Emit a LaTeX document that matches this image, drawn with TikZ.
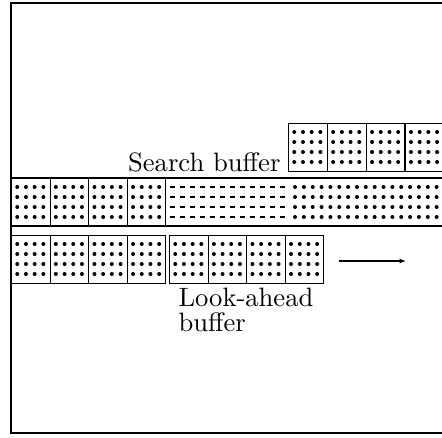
\documentclass[tikz,border=0pt]{standalone}
\usetikzlibrary{arrows.meta}

\tikzset{
  cellbox/.style={draw, anchor=north west, inner sep=0pt,
    minimum width=14.51pt, minimum height=18.05pt},
  buflabel/.style={inner sep=0pt, font=\fontsize{10}{9.4}\selectfont}
}
% 4x4 dots inside one cell
\newcommand{\dotcell}[1]{%
  \foreach \dx in {6.25,14.95,23.65,32.35}
    \foreach \dy in {9,19,29,39}
      \fill ([shift={(\dx,\dy)}]#1.north west) circle (0.75pt);}

\begin{document}
\begin{tikzpicture}[x=0.376pt,y=-0.376pt]
\useasboundingbox (0,0) rectangle (442,437);
\clip (0,0) rectangle (442,437);

\draw (11,3) rectangle (480,433);

% upper row
\foreach \i in {1,...,4}
  \node[cellbox] (srch\i) at ({288+38.9*(\i-1)},123) {};
\foreach \i in {1,...,4} {\dotcell{srch\i}}
\node[buflabel, anchor=base east] (srchlabel) at (281,171) {Search buffer};

% middle row
\draw (11,178) -- (480,178) (11,226) -- (480,226);
\foreach \i in {1,...,4}
  \node[cellbox] (win\i) at ({11+38.6*(\i-1)},178) {};
\foreach \i in {1,...,4} {\dotcell{win\i}}
\foreach \dy in {187,197,207,217} {
  \draw[line width=0.55pt, dash pattern=on 1.88pt off 1.88pt] (170,\dy) -- (285,\dy);
  \foreach \dx in {0,...,17}
    \fill ({295+8.85*\dx},\dy) circle (0.75pt);
}

% lower row
\foreach \i in {1,...,4} {
  \node[cellbox] (done\i) at ({11+38.6*(\i-1)},235) {};
  \node[cellbox] (look\i) at ({169+38.6*(\i-1)},235) {};
}
\foreach \i in {1,...,4} {\dotcell{done\i}\dotcell{look\i}}
\node[buflabel, align=left, anchor=north west] (looklabel) at (178,288) {Look-ahead\\buffer};

\coordinate (movefrom) at (339,261);
\coordinate (moveto) at (406,261);
\draw[-{Latex[length=2.4pt,width=1.8pt]}] (movefrom) -- (moveto);

\end{tikzpicture}
\end{document}
